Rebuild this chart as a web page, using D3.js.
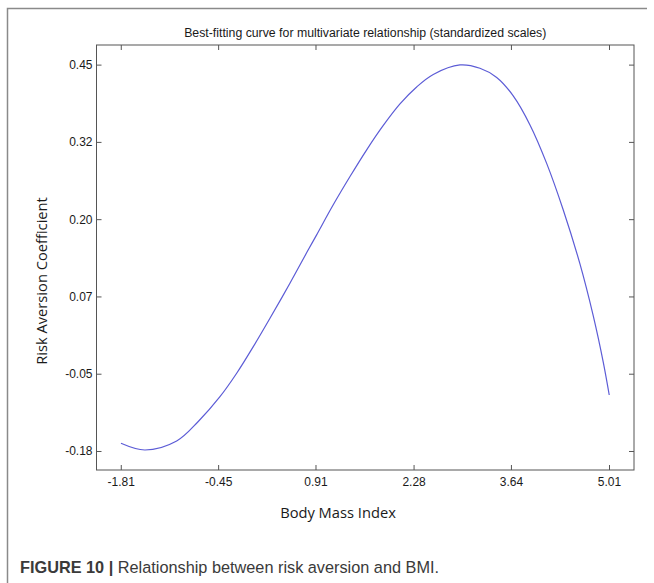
<!DOCTYPE html>
<html>
  <head>
	<meta charset="utf-8">
	<title>Best-fitting curve</title>
	<script src="https://cdnjs.cloudflare.com/ajax/libs/d3/7.8.5/d3.min.js"></script>
	<style>
	  body { margin: 0; background: #fff; }
	  .kurve { fill: none; stroke: #5c5cd6; stroke-width: 1.2px; }
	  .rahmen { fill: none; stroke: #555; stroke-width: 1px; }
	  .tick text { font-family: "Liberation Sans", Arial, sans-serif; font-size: 12px; fill: #1a1a1a; }
	  .tick line { stroke: #555; }
	</style>
  </head>
  <body>
	<div id="Diagramm"></div>
	<script>
		// Werte
		var bmiWerte = [-1.807, -1.472, -1.029, -0.7275, -0.4244, -0.191, 0.041, 0.274, 0.553, 0.809,
			0.926, 1.158, 1.392, 1.625, 1.857, 2.090, 2.323, 2.555, 2.928, 3.207,
			3.441, 3.672, 3.906, 4.139, 4.371, 4.604, 4.790, 4.930, 5.013];
		var risikoWerte = [-0.1675, -0.1784, -0.1637, -0.1319, -0.0915, -0.0533, -0.0099, 0.0364, 0.0935, 0.148,
			0.1724, 0.2214, 0.2675, 0.3111, 0.3508, 0.3859, 0.4136, 0.434, 0.4495, 0.4441,
			0.4291, 0.399, 0.3517, 0.289, 0.213, 0.125, 0.0402, -0.0355, -0.0887];
		var xTicks = [-1.81, -0.45, 0.91, 2.28, 3.64, 5.01];
		var yTicks = [-0.18, -0.054, 0.072, 0.198, 0.324, 0.45];

		var abstaende = { links: 96.5, oben: 45, rechts: 20, unten: 113 };
		var breite = 654 - abstaende.links - abstaende.rechts;
		var hoehe = 583 - abstaende.oben - abstaende.unten;

		var xSkala = d3.scaleLinear().domain([-2.149, 5.359]).range([0, breite]);
		var ySkala = d3.scaleLinear().domain([-0.211, 0.482]).range([hoehe, 0]);

		var daten = bmiWerte.map(function (x, i) {
			return { x: x, y: risikoWerte[i] };
		});

		var svgRoot = d3.select("#Diagramm")
			.append("svg")
			.attr("width", 654)
			.attr("height", 583);

		// aeusserer Rahmen der Abbildung (oben und links)
		svgRoot.append("path")
			.attr("d", "M7.5,583V8.5H647")
			.attr("fill", "none")
			.attr("stroke", "#8a8a8a")
			.attr("stroke-width", 1.5);

		var svg = svgRoot.append("g")
			.attr("transform", "translate(" + abstaende.links + "," + abstaende.oben + ")");

		// Bindestrich statt Unicode-Minus
		var fmt = function (d) { return d.toFixed(2); };

		svg.append("g")
			.attr("transform", "translate(0," + hoehe + ")")
			.call(d3.axisBottom(xSkala).tickValues(xTicks).tickFormat(fmt).tickSizeInner(-5).tickSizeOuter(0).tickPadding(7))
			.call(function (g) { g.select(".domain").remove(); });
		svg.append("g")
			.call(d3.axisTop(xSkala).tickValues(xTicks).tickFormat("").tickSizeInner(-5).tickSizeOuter(0))
			.call(function (g) { g.select(".domain").remove(); });
		svg.append("g")
			.call(d3.axisLeft(ySkala).tickValues(yTicks).tickFormat(fmt).tickSizeInner(-5).tickSizeOuter(0).tickPadding(4))
			.call(function (g) { g.select(".domain").remove(); });
		svg.append("g")
			.attr("transform", "translate(" + breite + ",0)")
			.call(d3.axisRight(ySkala).tickValues(yTicks).tickFormat("").tickSizeInner(-5).tickSizeOuter(0))
			.call(function (g) { g.select(".domain").remove(); });

		svg.append("rect")
			.attr("class", "rahmen")
			.attr("x", 0)
			.attr("y", 0)
			.attr("width", breite)
			.attr("height", hoehe);

		svg.append("path")
			.data([daten])
			.attr("class", "kurve")
			.attr("d", d3.line()
				.x(function (d) { return xSkala(d.x); })
				.y(function (d) { return ySkala(d.y); })
				.curve(d3.curveCatmullRom.alpha(0.5)));

		svg.append("text")
			.attr("x", breite / 2)
			.attr("y", -8)
			.attr("text-anchor", "middle")
			.style("font-family", "'Liberation Sans', Arial, sans-serif")
			.style("font-size", "12.3px")
			.style("fill", "#1a1a1a")
			.text("Best-fitting curve for multivariate relationship (standardized scales)");

		svg.append("text")
			.attr("x", 241.5)
			.attr("y", hoehe + 48)
			.attr("text-anchor", "middle")
			.style("font-family", "'Open Sans', sans-serif")
			.style("font-size", "14.7px")
			.style("fill", "#1a1a1a")
			.text("Body Mass Index");

		svg.append("text")
			.attr("transform", "translate(-50,236) rotate(-90)")
			.attr("text-anchor", "middle")
			.style("font-family", "'Open Sans', sans-serif")
			.style("font-size", "14.7px")
			.style("fill", "#1a1a1a")
			.text("Risk Aversion Coefficient");

		var caption = svgRoot.append("text")
			.attr("x", 20)
			.attr("y", 573)
			.style("font-family", "'Liberation Sans', Arial, sans-serif")
			.style("font-size", "16.3px")
			.style("fill", "#3a3a3a");
		caption.append("tspan").style("font-weight", "bold").text("FIGURE 10 | ");
		caption.append("tspan").text("Relationship between risk aversion and BMI.");
	</script>
  </body>
</html>
